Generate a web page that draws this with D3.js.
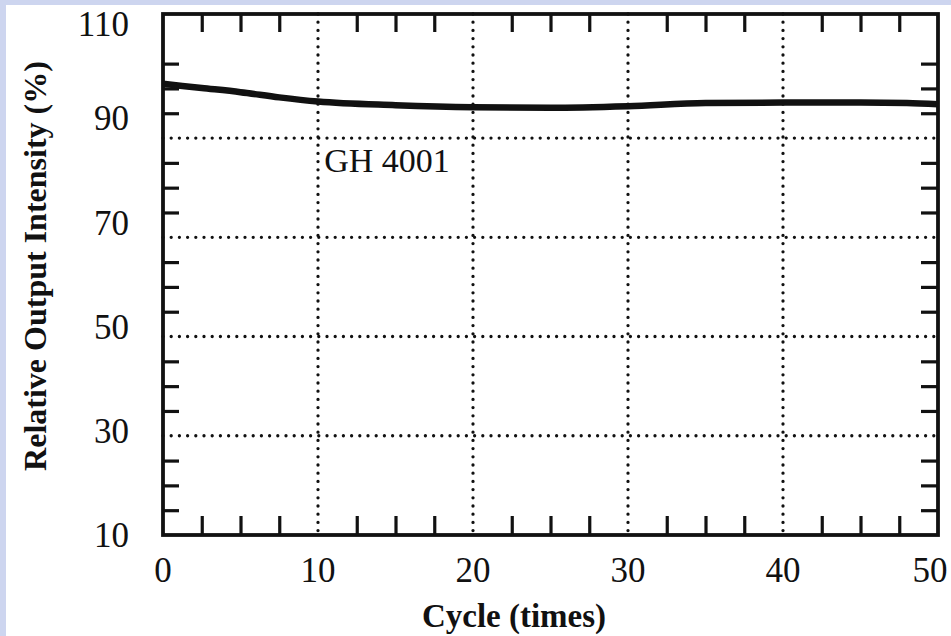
<!DOCTYPE html>
<html>
<head>
<meta charset="utf-8">
<script src="https://cdn.jsdelivr.net/npm/d3@7"></script>
<style>
  body { margin: 0; background: #fff; }
  svg { display: block; }
  text { font-family: "Liberation Serif", "Times New Roman", serif; fill: #111; }
</style>
</head>
<body>
<svg width="951" height="636"></svg>
<script>
// data
const cycles    = [0, 2.5, 5, 7.5, 10, 15, 20, 25, 30, 35, 40, 45, 48, 50];
const intensity = [96.6, 95.8, 95.0, 94.0, 93.2, 92.5, 92.1, 92.0, 92.3, 92.9, 93.0, 93.0, 92.9, 92.7];
const xTickLabels = [0, 10, 20, 30, 40, 50];
const yTickLabels = [10, 30, 50, 70, 90, 110];
const xMinorTicks = d3.range(1, 20).map(i => i * 2.5);
const yMinorTicks = d3.range(1, 21).map(i => 10 + i * 100 / 21);   // 21 steps on the scan
const seriesName = "GH 4001";
const seriesLabelAt = [10.4, 79.7];

let svg = d3.select('svg');
let W = 951, H = 636;

// pale frame of the scanned figure
svg.append('rect').attr('width', W).attr('height', H).attr('fill', '#cdd5ef');
svg.append('rect').attr('x', 6).attr('y', 5).attr('width', W - 6).attr('height', H - 5).attr('fill', '#fff');

let xScale = d3.scaleLinear().domain([0, 50]).range([163, 938]);
let yScale = d3.scaleLinear().domain([10, 110]).range([535, 14]);

let g = svg.append('g');

// dotted grid, every 4th minor step from the bottom
let vGrid = xTickLabels.filter(d => d > 0 && d < 50);
let hGrid = yMinorTicks.filter((d, i) => (i + 1) % 4 === 0 && i + 1 < 20);

g.selectAll('.vgrid').data(vGrid).enter().append('line')
  .attr('x1', d => xScale(d)).attr('x2', d => xScale(d))
  .attr('y1', yScale(110)).attr('y2', yScale(10))
  .attr('stroke', '#111').attr('stroke-width', 3.3)
  .attr('stroke-linecap', 'round').attr('stroke-dasharray', '0 8.2');

g.selectAll('.hgrid').data(hGrid).enter().append('line')
  .attr('x1', xScale(0)).attr('x2', xScale(50))
  .attr('y1', d => yScale(d)).attr('y2', d => yScale(d))
  .attr('stroke', '#111').attr('stroke-width', 3.3)
  .attr('stroke-linecap', 'round').attr('stroke-dasharray', '0 8.2');

// minor ticks on all four sides (skip where a grid line sits)
let xTicks = xMinorTicks.filter(d => d % 10 !== 0);
let yTicks = yMinorTicks.filter((d, i) => (i + 1) % 4 !== 0 && i + 1 < 21);

g.append('g').attr('transform', `translate(0,${yScale(10)})`)
  .call(d3.axisTop(xScale).tickValues(xTicks).tickSize(19).tickFormat(''));
g.append('g').attr('transform', `translate(0,${yScale(110)})`)
  .call(d3.axisBottom(xScale).tickValues(xTicks).tickSize(18).tickFormat(''));
g.append('g').attr('transform', `translate(${xScale(0)},0)`)
  .call(d3.axisRight(yScale).tickValues(yTicks).tickSize(16).tickFormat(''));
g.append('g').attr('transform', `translate(${xScale(50)},0)`)
  .call(d3.axisLeft(yScale).tickValues(yTicks).tickSize(17).tickFormat(''));

g.selectAll('.domain').remove();
g.selectAll('.tick line').attr('stroke', '#111').attr('stroke-width', 3.2);

// frame
g.append('rect')
  .attr('x', xScale(0)).attr('y', yScale(110))
  .attr('width', xScale(50) - xScale(0)).attr('height', yScale(10) - yScale(110))
  .attr('fill', 'none').attr('stroke', '#111').attr('stroke-width', 3.8);

// curve
let line = d3.line()
  .x((d, i) => xScale(cycles[i]))
  .y(d => yScale(d))
  .curve(d3.curveMonotoneX);

g.append('path').datum(intensity)
  .attr('d', line)
  .attr('fill', 'none').attr('stroke', '#111').attr('stroke-width', 6.5);

g.append('text')
  .attr('x', xScale(seriesLabelAt[0])).attr('y', yScale(seriesLabelAt[1]))
  .attr('font-size', 34).text(seriesName);

// tick labels
g.selectAll('.xlab').data(xTickLabels).enter().append('text')
  .attr('x', d => Math.min(xScale(d), W - 21)).attr('y', 582)
  .attr('text-anchor', 'middle').attr('font-size', 35)
  .text(d => d);

g.selectAll('.ylab').data(yTickLabels).enter().append('text')
  .attr('x', 129).attr('y', d => Math.max(yScale(d), 24))
  .attr('dy', '0.35em')
  .attr('text-anchor', 'end').attr('font-size', 35)
  .text(d => d);

// axis titles
svg.append('text')
  .attr('x', 514).attr('y', 627)
  .attr('text-anchor', 'middle').attr('font-size', 33).attr('font-weight', 'bold')
  .text('Cycle (times)');

svg.append('text')
  .attr('transform', 'translate(46,266) rotate(-90)')
  .attr('text-anchor', 'middle').attr('font-size', 32).attr('font-weight', 'bold')
  .text('Relative Output Intensity (%)');
</script>
</body>
</html>
